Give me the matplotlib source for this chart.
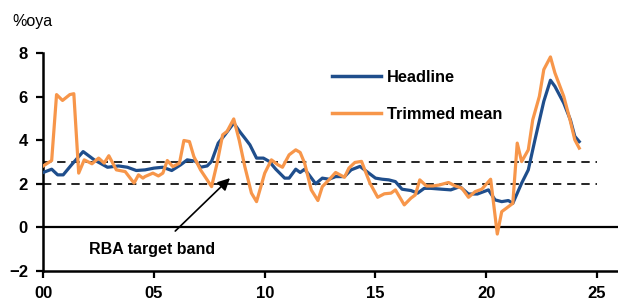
import matplotlib
matplotlib.use("Agg")
import matplotlib.pyplot as plt

plt.rcParams['font.family'] = ['Liberation Sans', 'DejaVu Sans']

# years since 2000, % oya
head_x = [0.0, 0.38, 0.65, 0.9, 1.3, 1.8, 2.3, 2.9, 3.4, 3.8, 4.2, 4.6, 5.0, 5.4, 5.8,
          6.2, 6.5, 6.9, 7.1, 7.4, 7.6, 7.9, 8.2, 8.6, 8.9, 9.1, 9.33, 9.63, 9.94, 10.2,
          10.5, 10.9, 11.1, 11.4, 11.6, 11.8, 12.0, 12.3, 12.6, 12.9, 13.2, 13.6, 13.9,
          14.3, 14.7, 15.0, 15.3, 15.6, 15.9, 16.2, 16.6, 16.9, 17.2, 17.5, 18.0, 18.4,
          18.81, 19.2, 19.6, 20.1, 20.4, 20.7, 21.0, 21.2, 21.6, 21.9, 22.2, 22.6, 22.9,
          23.1, 23.5, 23.8, 24.0, 24.2]
head_y = [2.52, 2.67, 2.41, 2.41, 2.9, 3.48, 3.1, 2.76, 2.82, 2.76, 2.61, 2.64, 2.72, 2.76, 2.61,
          2.87, 3.1, 3.03, 2.76, 2.82, 3.03, 3.87, 4.25, 4.79, 4.36, 4.1, 3.79, 3.18, 3.18, 3.03,
          2.67, 2.26, 2.26, 2.67, 2.52, 2.67, 2.41, 2.0, 2.26, 2.21, 2.33, 2.33, 2.64,
          2.8, 2.49, 2.26, 2.21, 2.18, 2.1, 1.75, 1.69, 1.57, 1.79, 1.79, 1.75, 1.72,
          1.87, 1.53, 1.53, 1.72, 1.26, 1.18, 1.23, 1.1, 2.03, 2.64, 4.02, 5.79, 6.76,
          6.48, 5.71, 4.94, 4.18, 3.94]

trim_x = [0.0, 0.38, 0.6, 0.87, 1.2, 1.38, 1.6, 1.85, 2.2, 2.5, 2.75, 2.96, 3.3, 3.7, 4.1,
          4.3, 4.5, 4.59, 4.95, 5.2, 5.4, 5.6, 5.85, 6.15, 6.35, 6.6, 6.8, 7.1, 7.4, 7.6,
          7.85, 8.1, 8.3, 8.6, 8.85, 9.1, 9.4, 9.63, 10.0, 10.3, 10.6, 10.8, 11.1, 11.4,
          11.6, 11.8, 12.1, 12.4, 12.6, 12.9, 13.2, 13.6, 13.8, 14.07, 14.37, 14.75, 15.1,
          15.4, 15.7, 15.9, 16.3, 16.6, 16.8, 17.0, 17.3, 17.6, 17.9, 18.3, 18.6, 18.9,
          19.2, 19.5, 19.8, 20.2, 20.5, 20.7, 20.9, 21.2, 21.4, 21.6, 21.9, 22.1, 22.4,
          22.6, 22.9, 23.1, 23.5, 23.8, 24.0, 24.2]
trim_y = [2.82, 3.07, 6.1, 5.83, 6.1, 6.14, 2.49, 3.1, 2.92, 3.18, 2.95, 3.29, 2.64, 2.56, 2.03,
          2.41, 2.26, 2.33, 2.49, 2.36, 2.49, 3.07, 2.79, 2.95, 3.99, 3.94, 3.25, 2.64, 2.18, 1.87,
          2.95, 4.25, 4.41, 4.98, 3.99, 2.79, 1.57, 1.18, 2.49, 3.1, 2.87, 2.76, 3.33, 3.56,
          3.44, 2.95, 1.72, 1.23, 1.87, 2.18, 2.52, 2.3, 2.72, 2.98, 3.03, 2.03, 1.38,
          1.54, 1.57, 1.72, 1.03, 1.34, 1.49, 2.18, 1.9, 1.9, 1.95, 2.06, 1.9, 1.8,
          1.38, 1.64, 1.75, 2.21, -0.31, 0.72, 0.87, 1.1, 3.87, 3.02, 3.56, 4.94, 6.02,
          7.25, 7.83, 7.1, 6.02, 4.87, 4.02, 3.64]

band = [2, 3]
xticks = [0, 5, 10, 15, 20, 25]
xlabels = ['00', '05', '10', '15', '20', '25']
yticks = [-2, 0, 2, 4, 6, 8]

fig = plt.figure(figsize=(6.18, 3.06), dpi=100)
ax = fig.add_axes([0.070, 0.115, 0.930, 0.711])

ax.axhline(0, color='black', lw=1.6, zorder=1)
for b in band:
    ax.plot([0, 25], [b, b], color='black', lw=1.2, ls=(0, (5, 3.5)), zorder=1)

ax.plot(head_x, head_y, color='#1F4E8C', lw=2.3, label='Headline', zorder=3)
ax.plot(trim_x, trim_y, color='#F7964A', lw=2.3, label='Trimmed mean', zorder=4)

ax.set_xlim(0, 25.95)
ax.set_ylim(-2, 8)
ax.set_xticks(xticks)
ax.set_xticklabels(xlabels)
ax.set_yticks(yticks)
for s in ['top', 'right']:
    ax.spines[s].set_visible(False)
for s in ['left', 'bottom']:
    ax.spines[s].set_linewidth(1.8)
ax.tick_params(direction='out', length=5, width=1.6, labelsize=12, pad=6)
for lab in ax.get_xticklabels() + ax.get_yticklabels():
    lab.set_fontweight('bold')

fig.text(0.02, 0.93, '%oya', fontsize=11.5, va='center', ha='left')

ax.annotate('RBA target band', xy=(8.43, 2.26), xytext=(4.9, -1.0),
            fontsize=11.5, fontweight='bold', ha='center', va='center',
            arrowprops=dict(arrowstyle='-|>', color='black', lw=1.2,
                            mutation_scale=18, shrinkA=8, shrinkB=0,
                            relpos=(0.6, 1.0)))

leg = ax.legend(loc='upper left', bbox_to_anchor=(332 / 618, 1 - 70 / 306),
                bbox_transform=fig.transFigure, frameon=False,
                handlelength=3.0, handletextpad=0.35, labelspacing=1.35,
                borderpad=0, borderaxespad=0,
                prop={'weight': 'bold', 'size': 11.8})
for line in leg.get_lines():
    line.set_linewidth(2.5)

fig.savefig('out.png', dpi=100)
